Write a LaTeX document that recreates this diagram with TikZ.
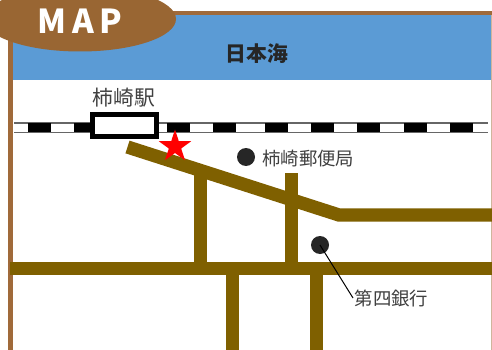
\documentclass[tikz,border=0pt]{standalone}
\usepackage{fontspec}
\newfontfamily\cjk{Noto Sans CJK JP}
\usetikzlibrary{shapes.geometric}
\definecolor{framebrown}{HTML}{A06A3A}
\definecolor{ovalbrown}{HTML}{996633}
\definecolor{seablue}{HTML}{5B9BD5}
\definecolor{roadbrown}{HTML}{7F6000}
\definecolor{ink}{HTML}{404040}
\definecolor{dotink}{HTML}{262626}
\tikzset{
  road/.style={draw=roadbrown,line width=13.3pt,line cap=butt,line join=miter},
  framebar/.style={draw=framebrown,line cap=butt},
  railedge/.style={draw=black!60,line width=1.5pt},
  railtie/.style={fill=black},
  place/.style={circle,fill=dotink,minimum size=18pt,inner sep=0pt},
  maplabel/.style={inner sep=0pt,text=ink,font=\cjk\fontsize{18.4}{20}\selectfont},
}
\begin{document}
\begin{tikzpicture}[x=1pt,y=-1pt]
\useasboundingbox (0,0) rectangle (492,350);
\fill[white] (0,0) rectangle (492,350);
% frame and sea
\fill[seablue] (11,15) rectangle (491,80);
\draw[framebar,line width=3.6pt] (0,13) -- (492,13);
\draw[framebar,line width=4.6pt] (10.2,30) -- (10.2,350);
\draw[draw=framebrown!50,line width=0.8pt] (491.6,15) -- (491.6,350);
\node[inner sep=0pt,text=dotink,font=\cjk\bfseries\fontsize{20.8}{22}\selectfont] (sea) at (257,54) {日本海};
% oval title
\begin{scope}
\clip (0,0) rectangle (492,350);
\fill[ovalbrown] (80,19) ellipse [x radius=96,y radius=32.5];
\end{scope}
\node[inner sep=0pt,text=white,font=\cjk\bfseries\fontsize{33}{35}\selectfont] (title) at (80,21) {M\hspace{5.5pt}A\hspace{5.5pt}P};
% railway
\draw[railedge] (14,122.8) -- (488,122.8);
\draw[railedge] (14,132.4) -- (488,132.4);
\foreach \x in {28,74.4,167,213.3,264.5,311,357.3,403.6,450}
  \fill[railtie] (\x,123) rectangle ++(23,9.4);
% roads
\draw[road] (127.5,147) -- (339,215) -- (492,215);
\draw[road] (200.3,172) -- (200.3,268.5);
\draw[road] (291.5,173) -- (291.5,268.5);
\draw[road] (10,268.5) -- (492,268.5);
\draw[road] (232.5,268.5) -- (232.5,350);
\draw[road] (316.8,268.5) -- (316.8,350);
% station
\node[draw=black,fill=white,line width=5pt,minimum width=64pt,minimum height=22pt,inner sep=0pt] (station) at (124.3,125.5) {};
\node[maplabel,font=\cjk\fontsize{20.8}{22}\selectfont] (stationlabel) at (124,98) {柿崎駅};
% star
\node[star,star points=5,star point ratio=2.618,fill=red,minimum size=34pt,inner sep=0pt] (mark) at (175,146.5) {};
% places
\node[place] (post) at (246,157) {};
\node[maplabel,anchor=west] (postlabel) at (262,159) {柿崎郵便局};
\node[place] (bank) at (320,245) {};
\node[maplabel,anchor=west,inner sep=1.5pt] (banklabel) at (353,298) {第四銀行};
\draw[black,line width=1pt] (bank.center) -- (banklabel.west);
\end{tikzpicture}
\end{document}
